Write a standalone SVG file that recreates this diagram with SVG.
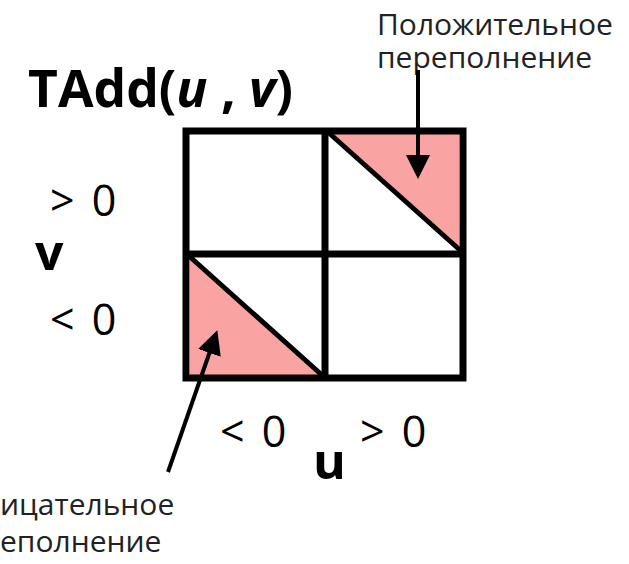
<svg xmlns="http://www.w3.org/2000/svg" width="629" height="564" viewBox="0 0 629 564">
<defs>
<style>
.lbl{font-family:"Open Sans","Liberation Sans",sans-serif;fill:#000}
.note{font-family:"Open Sans","Liberation Sans",sans-serif;font-size:30px;fill:#222}
.grid{fill:none;stroke:#000;stroke-width:7}
.diag{stroke:#000;stroke-width:5;fill:none}
.pink{fill:#F9A3A3}
.arr{stroke:#000;stroke-width:4;fill:none}
</style>
<marker id="ah" markerWidth="6" markerHeight="6" refX="5" refY="3" orient="auto" markerUnits="strokeWidth">
<path d="M0,0 L6,3 L0,6 Z" fill="#000"/>
</marker>
</defs>
<rect width="629" height="564" fill="#fff"/>
<g id="title"><text class="lbl" x="28" y="107" font-size="52" font-weight="bold" textLength="265" lengthAdjust="spacingAndGlyphs">TAdd(<tspan font-style="italic">u</tspan> , <tspan font-style="italic">v</tspan>)</text></g>
<g id="grid">
<polygon class="pink" points="329,134 459,134 459,250"/>
<polygon class="pink" points="190,257 322,375 190,375"/>
<line class="diag" x1="329" y1="133" x2="461" y2="251"/>
<line class="diag" x1="189" y1="256" x2="323" y2="376"/>
<rect class="grid" x="186" y="131" width="277" height="247"/>
<line class="grid" x1="325" y1="131" x2="325" y2="378"/>
<line class="grid" x1="186" y1="254" x2="463" y2="254"/>
</g>
<g id="v-labels">
<text class="lbl" x="50" y="216" font-size="43" word-spacing="6">&gt; 0</text>
<text class="lbl" x="35" y="270" font-size="50" font-weight="bold">v</text>
<text class="lbl" x="50" y="335" font-size="43" word-spacing="6">&lt; 0</text>
</g>
<g id="u-labels">
<text class="lbl" x="220" y="447" font-size="43" word-spacing="6">&lt; 0</text>
<text class="lbl" x="313" y="479" font-size="50" font-weight="bold">u</text>
<text class="lbl" x="360" y="447" font-size="43" word-spacing="6">&gt; 0</text>
</g>
<g id="pos-note">
<text class="note" x="377" y="35">Положительное</text>
<text class="note" x="377" y="68">переполнение</text>
</g>
<g id="neg-note">
<text class="note" x="0" y="515">ицательное</text>
<text class="note" x="0" y="552">еполнение</text>
</g>
<g id="connectors">
<line class="arr" x1="418" y1="70" x2="418" y2="175" marker-end="url(#ah)"/>
<line class="arr" x1="168" y1="472" x2="216" y2="334" marker-end="url(#ah)"/>
</g>
</svg>
